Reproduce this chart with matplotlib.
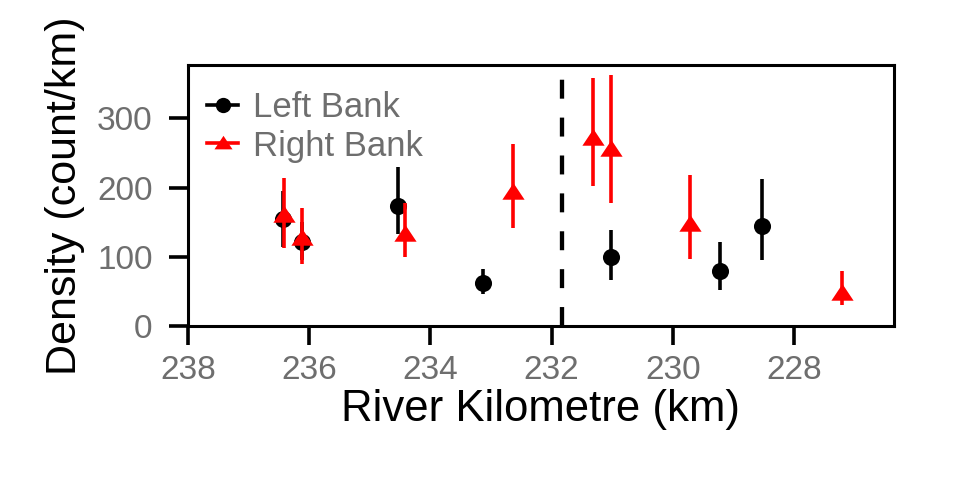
import numpy as np
import matplotlib.pyplot as plt

plt.rcParams['font.family'] = ['Liberation Sans', 'DejaVu Sans']

# Left bank densities (count/km) with error bar limits
left_km = [236.43, 236.12, 234.53, 233.13, 231.02, 229.22, 228.52]
left_dens = [154, 121, 174, 62, 99, 79, 145]
left_low = [114, 95, 133, 46, 67, 52, 95]
left_high = [195, 150, 230, 83, 139, 121, 213]

# Right bank densities (count/km) with error bar limits
right_km = [236.42, 236.12, 234.42, 232.63, 231.32, 231.02, 229.72, 227.21]
right_dens = [160, 127, 133, 194, 272, 255, 147, 48]
right_low = [113, 90, 100, 141, 202, 178, 97, 31]
right_high = [214, 171, 177, 263, 358, 362, 218, 79]

dam_km = 231.82

grey = '#6e6e6e'
# flat triangle like R's pch 17
tri = [(0, 0.85), (-1, -0.65), (1, -0.65), (0, 0.85)]

fig = plt.figure(figsize=(9.6, 4.8), dpi=100)
ax = fig.add_axes([0.1958, 0.3208, 0.7354, 0.5438])

ax.axvline(dam_km, color='black', lw=3.1, ls=(0, (4.4, 4.4)), zorder=1)

ax.vlines(left_km, left_low, left_high, color='black', lw=2.6, zorder=2)
ax.plot(left_km, left_dens, 'o', color='black', ms=12.3, mew=0, zorder=3)
ax.vlines(right_km, right_low, right_high, color='red', lw=2.6, zorder=4)
ax.plot(right_km, right_dens, ls='none', marker=tri, color='red', ms=16, mew=0, zorder=5)

# legend handles (marker + line like ggplot pointrange)
h1, = ax.plot([], [], 'o-', color='black', ms=11, mew=0, lw=2.6)
h2, = ax.plot([], [], marker=tri, ls='-', color='red', ms=13, mew=0, lw=2.6)
leg = ax.legend([h1, h2], ['Left Bank', 'Right Bank'], loc='upper left',
                frameon=False, fontsize=25, handlelength=0.9, handletextpad=0.42,
                labelspacing=0.16, borderpad=0, borderaxespad=0,
                bbox_to_anchor=(207 / 960, 1 - 91 / 480),
                bbox_transform=fig.transFigure)
for t in leg.get_texts():
    t.set_color(grey)

ax.set_xlim(238, 226.35)
ax.set_ylim(0, 377)
ax.set_xticks([238, 236, 234, 232, 230, 228])
ax.set_yticks([0, 100, 200, 300])

for s in ax.spines.values():
    s.set_linewidth(2.2)
ax.tick_params(direction='out', length=14, width=2.6, labelsize=24,
               labelcolor=grey, color='black')
ax.tick_params(axis='x', pad=7)
ax.tick_params(axis='y', pad=11.5)

ax.set_xlabel('River Kilometre (km)', fontsize=31.5, labelpad=2)
ax.set_ylabel('Density (count/km)', fontsize=31, labelpad=8.5)

fig.savefig('out.png', dpi=100)
